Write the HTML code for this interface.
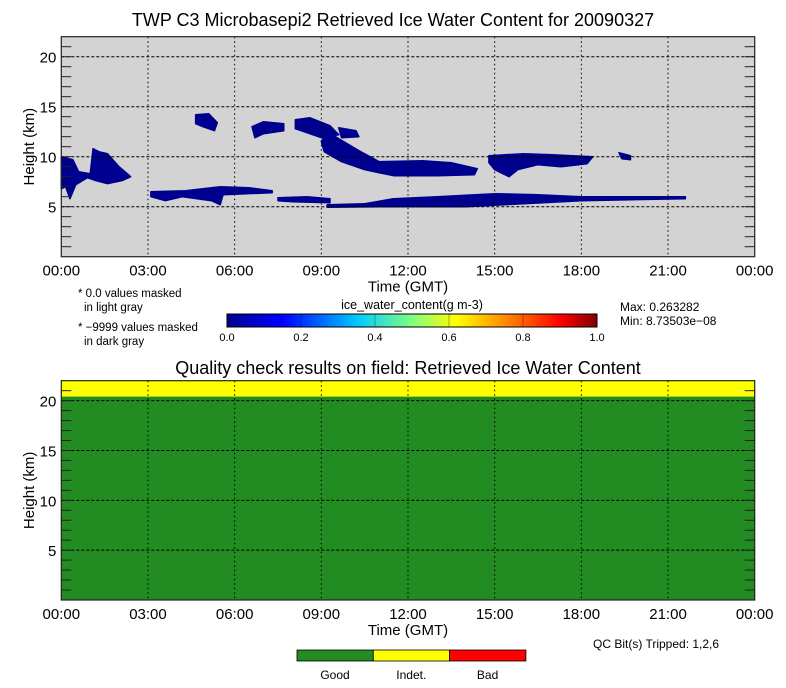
<!DOCTYPE html>
<html><head><meta charset="utf-8"><style>
body{margin:0;background:#fff;}
svg{display:block;font-family:"Liberation Sans",sans-serif;}
</style></head><body>
<svg id="s" width="786" height="688" viewBox="0 0 786 688"></svg>
<script>
const xTickLabels=["00:00","03:00","06:00","09:00","12:00","15:00","18:00","21:00","00:00"];
const xTickHours=[0,3,6,9,12,15,18,21,24];
const yTickLabels=[5,10,15,20];
const cbTicks=["0.0","0.2","0.4","0.6","0.8","1.0"];
const cloudA=[[0,10],[0.4,9.7],[0.6,8.5],[1.0,8.3],[1.1,10.8],[1.3,10.5],[1.6,10.3],[2.0,9],[2.4,8],[2.1,7.6],[1.6,7.3],[1.2,7.6],[0.9,7.9],[0.5,7.2],[0.3,5.8],[0.15,7],[0,6.8]];
const cloudB=[[3.1,6.5],[4.3,6.6],[5.5,7.0],[6.5,6.9],[7.3,6.6],[7.3,6.4],[5.6,6.2],[5.5,5.2],[5.2,5.6],[4.2,6.0],[3.6,5.6],[3.1,6.0]];
const cloudC=[[4.65,14.2],[5.1,14.3],[5.4,13.4],[5.3,12.6],[4.9,13.0],[4.65,13.3]];
const cloudD=[[6.6,13.0],[7.0,13.5],[7.7,13.3],[7.7,12.6],[7.0,12.3],[6.7,11.9]];
const cloudE=[[8.1,13.7],[8.6,13.9],[9.3,13.1],[9.6,12.2],[9.0,11.9],[8.5,12.4],[8.1,12.8]];
const cloudF=[[9.6,12.9],[10.2,12.6],[10.3,12.0],[9.7,11.9]];
const cloudG=[[9.2,12.5],[9.6,11.8],[10.3,10.6],[11.0,9.5],[12.5,9.6],[13.5,9.4],[14.4,8.8],[14.3,8.2],[13,8.1],[11.5,8.1],[10.5,8.7],[9.7,9.5],[9.1,10.5],[9.0,11.5]];
const cloudH=[[14.8,10.1],[16,10.3],[17,10.2],[18.4,10.0],[18.2,9.3],[17.3,9.0],[16.5,9.2],[15.8,8.7],[15.5,8.0],[15.0,8.7],[14.8,9.4]];
const cloudI=[[19.3,10.4],[19.7,10.1],[19.7,9.7],[19.4,9.8]];
const cloudJ=[[10.5,5.3],[11.5,5.8],[13,6.0],[15,6.3],[16.5,6.2],[18,6.0],[21.6,6.0],[21.6,5.8],[18,5.6],[16,5.3],[14,5.0],[12,5.0],[10.5,5.0]];
const cloudK=[[7.5,5.9],[8.5,6.0],[9.3,5.8],[9.3,5.4],[8,5.5],[7.5,5.6]];
const cloudL=[[9.2,5.2],[10.5,5.3],[11,5.0],[9.2,4.95]];
const clouds=[cloudA,cloudB,cloudC,cloudD,cloudE,cloudF,cloudG,cloudH,cloudI,cloudJ,cloudK,cloudL];
const qcYellowFrom=20.4;

const NS="http://www.w3.org/2000/svg",S=document.getElementById('s');
function el(t,a,txt,p){const e=document.createElementNS(NS,t);for(const k in a)e.setAttribute(k,a[k]);if(txt!=null)e.textContent=txt;(p||S).appendChild(e);return e;}
const X0=61.3,X1=754.7,KMMAX=22;
const xs=h=>X0+(X1-X0)*h/24;
function panel(top,bot){return k=>bot-(bot-top)*k/KMMAX;}
let t=el('text',{x:393,y:26,'text-anchor':'middle','font-size':18},'TWP C3 Microbasepi2 Retrieved Ice Water Content for 20090327');

function drawPanel(top,bot,name,bg){
  const ys=panel(top,bot);
  const g=el('g',{});
  el('rect',{x:X0,y:top,width:X1-X0,height:bot-top,fill:bg},null,g);
  return {g,ys};
}
function axes(g,ys,top,bot){
  xTickHours.forEach(h=>{if(h>0&&h<24){const l=el('line',{x1:xs(h),x2:xs(h),y1:top,y2:bot,stroke:'#000','stroke-width':1,'stroke-dasharray':'1.5,3'},null,g);}});
  yTickLabels.forEach(k=>{const l=el('line',{x1:X0,x2:X1,y1:ys(k),y2:ys(k),stroke:'#000','stroke-width':1,'stroke-dasharray':'3,2'},null,g);});
  for(let k=1;k<KMMAX;k++){el('line',{x1:X0,x2:X0+10,y1:ys(k),y2:ys(k),stroke:'#222','stroke-width':1},null,g);el('line',{x1:X1-10,x2:X1,y1:ys(k),y2:ys(k),stroke:'#222','stroke-width':1},null,g);}
  el('rect',{x:X0,y:top,width:X1-X0,height:bot-top,fill:'none',stroke:'#222','stroke-width':1.2},null,g);
  yTickLabels.forEach(k=>{const tx=el('text',{x:X0-5,y:ys(k)+6,'text-anchor':'end','font-size':15},k,g);});
  xTickHours.forEach((h,i)=>{const tx=el('text',{x:xs(h),y:bot+19,'text-anchor':'middle','font-size':15},xTickLabels[i],g);});
  let a=el('text',{x:408,y:bot+35,'text-anchor':'middle','font-size':15},'Time (GMT)',g);
  let b=el('text',{x:34,y:(top+bot)/2,'text-anchor':'middle','font-size':15,transform:`rotate(-90 34 ${(top+bot)/2})`},'Height (km)',g);
}
const P1=drawPanel(36.7,256.7,'ice-water-plot','#d3d3d3');
clouds.forEach(c=>{const p=el('polygon',{points:c.map(q=>xs(q[0])+','+P1.ys(q[1])).join(' '),fill:'#00008e',stroke:'#00008e','stroke-width':1.5,'stroke-linejoin':'round'},null,P1.g);
});
axes(P1.g,P1.ys,36.7,256.7);
[['* 0.0 values masked',78,297],['in light gray',84,311],['* \u22129999 values masked',78,331],['in dark gray',84,345]].forEach(n=>{const tx=el('text',{x:n[1],y:n[2],'font-size':11.5},n[0]);});
const defs=el('defs',{});const lg=el('linearGradient',{id:'jet'},null,defs);
[['0','#00008f'],['0.15','#0000ff'],['0.35','#00c8ff'],['0.5','#7fff80'],['0.62','#ffff00'],['0.8','#ff6000'],['0.9','#ff0000'],['1','#800000']].forEach(s=>el('stop',{offset:s[0],'stop-color':s[1]},null,lg));
let cb=el('rect',{x:227,y:314,width:370,height:13,fill:'url(#jet)',stroke:'#000'});
for(let i=1;i<5;i++)el('line',{x1:227+74*i,x2:227+74*i,y1:314,y2:327,stroke:'#000','stroke-width':0.6,'stroke-opacity':0.5});
cbTicks.forEach((l,i)=>{const tx=el('text',{x:227+74*i,y:341,'text-anchor':'middle','font-size':11},l);});
t=el('text',{x:412,y:309,'text-anchor':'middle','font-size':12.5},'ice_water_content(g m-3)');
t=el('text',{x:620,y:311,'font-size':12},'Max: 0.263282');
t=el('text',{x:620,y:325,'font-size':12},'Min: 8.73503e\u221208');
t=el('text',{x:408,y:374,'text-anchor':'middle','font-size':18},'Quality check results on field: Retrieved Ice Water Content');
const P2=drawPanel(380.7,600,'qc-plot','#228b22');
let yb=el('rect',{x:X0,y:380.7,width:X1-X0,height:P2.ys(qcYellowFrom)-380.7,fill:'#ffff00'},null,P2.g);
axes(P2.g,P2.ys,380.7,600);
t=el('text',{x:593,y:648,'font-size':12},'QC Bit(s) Tripped: 1,2,6');
[['#228b22','Good'],['#ffff00','Indet.'],['#ff0000','Bad']].forEach((c,i)=>{const r=el('rect',{x:297+76.3*i,y:650,width:76.3,height:11,fill:c[0],stroke:'#000','stroke-width':0.8});
const tx=el('text',{x:297+76.3*i+38,y:679,'text-anchor':'middle','font-size':12},c[1]);});
</script>
</body></html>
